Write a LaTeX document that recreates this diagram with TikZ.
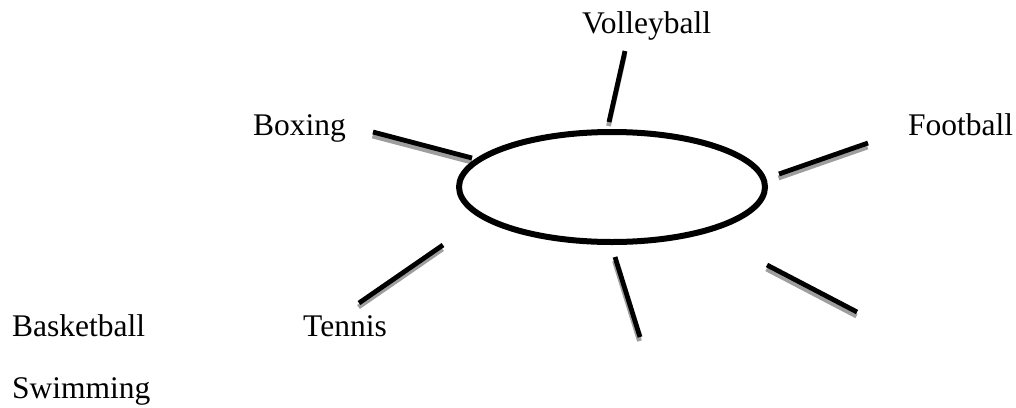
\documentclass[tikz,border=0pt]{standalone}
\usepackage{fontspec}
\setmainfont{Liberation Serif}
\usetikzlibrary{shapes.geometric}
\usepackage{xcolor}
\colorlet{spokeshade}{black!38}
\tikzset{
  label/.style={anchor=base west, inner sep=0pt, font=\fontsize{31.5}{38}\selectfont},
  hubline/.style={draw, ellipse, line width=6pt, minimum width=306pt, minimum height=110pt, inner sep=0pt},
  spoke/.style={line width=4.8pt, black},
  spokeshadow/.style={line width=4.8pt, spokeshade},
  shadowshift/.style={xshift=-0.5pt, yshift=-4pt},
}

\begin{document}
\begin{tikzpicture}[x=1pt,y=-1pt]
\useasboundingbox (0,0) rectangle (1016,407);
% texts
\node[label] (volleyball) at (582,33) {Volleyball};
\node[label] (boxing) at (253,135) {Boxing};
\node[label] (football) at (908,135) {Football};
\node[label] (basketball) at (12,336) {Basketball};
\node[label] (tennis) at (303,336) {Tennis};
\node[label] (swimming) at (12,398) {Swimming};
% spoke ends
\coordinate (v1) at (625,51);  \coordinate (v2) at (609,122);
\coordinate (b1) at (373,132); \coordinate (b2) at (472,158);
\coordinate (f1) at (779,174); \coordinate (f2) at (868,143);
\coordinate (t1) at (359,303); \coordinate (t2) at (443,245);
\coordinate (s1) at (615,257); \coordinate (s2) at (640,337);
\coordinate (r1) at (767,265); \coordinate (r2) at (857,312);
% shadows
\draw[spokeshadow] ([shadowshift]v1) -- ([shadowshift]v2);
\draw[spokeshadow] ([shadowshift]b1) -- ([shadowshift]b2);
\draw[spokeshadow] ([shadowshift]f1) -- ([shadowshift]f2);
\draw[spokeshadow] ([shadowshift]t1) -- ([shadowshift]t2);
\draw[spokeshadow] ([shadowshift]s1) -- ([shadowshift]s2);
\draw[spokeshadow] ([shadowshift]r1) -- ([shadowshift]r2);
% spokes
\draw[spoke] (v1) -- (v2);
\draw[spoke] (b1) -- (b2);
\draw[spoke] (f1) -- (f2);
\draw[spoke] (t1) -- (t2);
\draw[spoke] (s1) -- (s2);
\draw[spoke] (r1) -- (r2);
% hub
\node[hubline] (hub) at (612,187) {};
\end{tikzpicture}
\end{document}
